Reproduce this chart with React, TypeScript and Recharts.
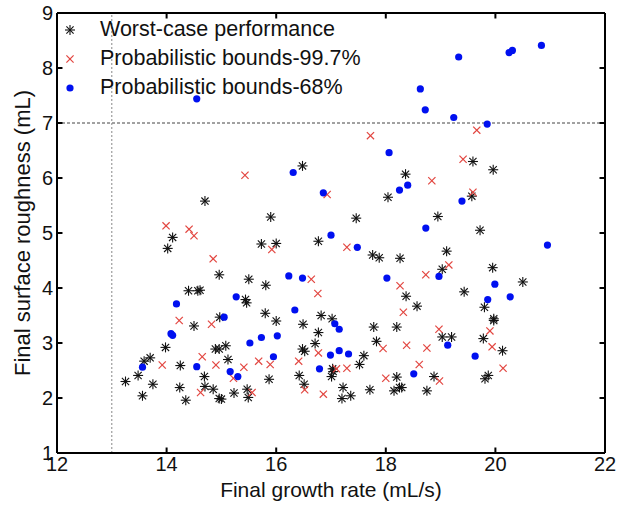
import React from "react";
import {
  ScatterChart,
  Scatter,
  XAxis,
  YAxis,
  ReferenceLine,
  Legend,
} from "recharts";

type Pt = { x: number; y: number };

const worstCase: Pt[] = [
  { x: 16.48, y: 6.22 }, { x: 14.7, y: 5.58 }, { x: 15.9, y: 5.29 }, { x: 14.11, y: 4.92 },
  { x: 16.77, y: 4.85 }, { x: 14.02, y: 4.72 }, { x: 15.73, y: 4.8 }, { x: 16.0, y: 4.81 },
  { x: 19.59, y: 6.3 }, { x: 19.96, y: 6.15 }, { x: 18.36, y: 6.07 }, { x: 18.04, y: 5.65 },
  { x: 19.57, y: 5.67 }, { x: 17.46, y: 5.27 }, { x: 18.95, y: 5.3 }, { x: 19.72, y: 5.05 },
  { x: 17.76, y: 4.6 }, { x: 17.88, y: 4.55 }, { x: 18.26, y: 4.54 }, { x: 19.11, y: 4.67 },
  { x: 19.03, y: 4.34 }, { x: 19.95, y: 4.37 }, { x: 20.5, y: 4.11 }, { x: 19.43, y: 3.93 },
  { x: 18.37, y: 3.85 }, { x: 18.57, y: 3.67 }, { x: 19.8, y: 3.65 }, { x: 19.97, y: 3.44 },
  { x: 19.97, y: 3.41 }, { x: 17.78, y: 3.29 }, { x: 18.2, y: 3.29 }, { x: 19.03, y: 3.11 },
  { x: 19.2, y: 3.11 }, { x: 19.78, y: 3.08 }, { x: 17.83, y: 3.03 }, { x: 20.13, y: 2.86 },
  { x: 17.6, y: 2.77 }, { x: 17.52, y: 2.61 }, { x: 18.2, y: 2.38 }, { x: 18.88, y: 2.39 },
  { x: 19.81, y: 2.35 }, { x: 19.87, y: 2.41 }, { x: 17.22, y: 2.19 }, { x: 17.71, y: 2.15 },
  { x: 18.15, y: 2.13 }, { x: 18.25, y: 2.19 }, { x: 18.29, y: 2.19 }, { x: 18.75, y: 2.13 },
  { x: 17.36, y: 2.04 }, { x: 17.2, y: 1.99 }, { x: 14.96, y: 4.24 }, { x: 15.5, y: 4.16 },
  { x: 15.81, y: 4.05 }, { x: 14.4, y: 3.95 }, { x: 14.57, y: 3.95 }, { x: 14.61, y: 3.96 },
  { x: 15.44, y: 3.79 }, { x: 15.46, y: 3.73 }, { x: 15.8, y: 3.54 }, { x: 16.0, y: 3.4 },
  { x: 16.82, y: 3.5 }, { x: 17.02, y: 3.44 }, { x: 14.5, y: 3.31 }, { x: 14.97, y: 3.47 },
  { x: 16.49, y: 3.34 }, { x: 16.77, y: 3.19 }, { x: 13.98, y: 2.92 }, { x: 14.89, y: 2.89 },
  { x: 14.96, y: 2.89 }, { x: 15.08, y: 2.95 }, { x: 16.48, y: 2.89 }, { x: 16.52, y: 2.85 },
  { x: 16.71, y: 2.99 }, { x: 15.12, y: 2.7 }, { x: 13.7, y: 2.73 }, { x: 13.59, y: 2.67 },
  { x: 14.25, y: 2.59 }, { x: 17.03, y: 2.53 }, { x: 17.04, y: 2.48 }, { x: 17.01, y: 2.39 },
  { x: 14.69, y: 2.39 }, { x: 15.87, y: 2.34 }, { x: 16.42, y: 2.41 }, { x: 13.48, y: 2.41 },
  { x: 13.25, y: 2.3 }, { x: 13.75, y: 2.25 }, { x: 14.24, y: 2.19 }, { x: 14.7, y: 2.21 },
  { x: 14.85, y: 2.16 }, { x: 15.23, y: 2.09 }, { x: 15.47, y: 2.16 }, { x: 15.49, y: 2.01 },
  { x: 14.96, y: 1.99 }, { x: 15.0, y: 1.98 }, { x: 13.56, y: 2.04 }, { x: 14.35, y: 1.96 },
  { x: 16.51, y: 2.25 },
];

const bounds997: Pt[] = [
  { x: 15.43, y: 6.05 }, { x: 16.93, y: 5.7 }, { x: 13.99, y: 5.13 }, { x: 14.41, y: 5.07 },
  { x: 14.5, y: 4.95 }, { x: 19.66, y: 6.87 }, { x: 17.72, y: 6.77 }, { x: 19.41, y: 6.34 },
  { x: 18.84, y: 5.95 }, { x: 19.59, y: 5.74 }, { x: 17.29, y: 4.74 }, { x: 19.15, y: 4.42 },
  { x: 18.73, y: 4.24 }, { x: 18.26, y: 4.04 }, { x: 18.32, y: 3.56 }, { x: 18.97, y: 3.25 },
  { x: 19.9, y: 3.22 }, { x: 17.95, y: 2.9 }, { x: 18.38, y: 2.96 }, { x: 18.75, y: 2.91 },
  { x: 19.94, y: 2.93 }, { x: 18.61, y: 2.61 }, { x: 20.14, y: 2.54 }, { x: 17.29, y: 2.54 },
  { x: 18.0, y: 2.36 }, { x: 18.98, y: 2.31 }, { x: 15.92, y: 4.7 }, { x: 14.85, y: 4.53 },
  { x: 16.64, y: 4.16 }, { x: 16.76, y: 3.9 }, { x: 14.23, y: 3.41 }, { x: 14.82, y: 3.34 },
  { x: 16.77, y: 2.82 }, { x: 14.65, y: 2.75 }, { x: 14.9, y: 2.6 }, { x: 15.41, y: 2.56 },
  { x: 15.68, y: 2.67 }, { x: 15.89, y: 2.61 }, { x: 16.41, y: 2.67 }, { x: 13.92, y: 2.6 },
  { x: 15.22, y: 2.36 }, { x: 17.1, y: 2.53 }, { x: 14.62, y: 2.1 }, { x: 15.56, y: 2.1 },
  { x: 16.52, y: 2.15 }, { x: 16.86, y: 2.07 },
];

const bounds68: Pt[] = [
  { x: 14.55, y: 7.44 }, { x: 16.31, y: 6.1 }, { x: 16.86, y: 5.73 }, { x: 17.0, y: 4.96 },
  { x: 19.33, y: 8.2 }, { x: 20.25, y: 8.28 }, { x: 20.31, y: 8.32 }, { x: 20.84, y: 8.41 },
  { x: 18.63, y: 7.62 }, { x: 18.72, y: 7.24 }, { x: 19.24, y: 7.1 }, { x: 19.85, y: 6.98 },
  { x: 18.06, y: 6.46 }, { x: 18.25, y: 5.78 }, { x: 18.4, y: 5.87 }, { x: 19.39, y: 5.58 },
  { x: 18.73, y: 5.09 }, { x: 17.48, y: 4.74 }, { x: 18.97, y: 4.21 }, { x: 18.02, y: 4.18 },
  { x: 19.99, y: 4.07 }, { x: 20.27, y: 3.84 }, { x: 19.86, y: 3.79 }, { x: 19.13, y: 2.96 },
  { x: 17.32, y: 2.8 }, { x: 19.63, y: 2.76 }, { x: 18.51, y: 2.44 }, { x: 20.95, y: 4.78 },
  { x: 16.23, y: 4.22 }, { x: 16.48, y: 4.18 }, { x: 15.27, y: 3.84 }, { x: 14.18, y: 3.71 },
  { x: 16.34, y: 3.6 }, { x: 15.05, y: 3.47 }, { x: 17.07, y: 3.35 }, { x: 17.15, y: 3.25 },
  { x: 14.08, y: 3.17 }, { x: 14.11, y: 3.14 }, { x: 15.52, y: 3.0 }, { x: 15.73, y: 3.1 },
  { x: 16.02, y: 3.13 }, { x: 17.15, y: 2.86 }, { x: 16.99, y: 2.78 }, { x: 15.95, y: 2.75 },
  { x: 13.56, y: 2.56 }, { x: 14.55, y: 2.57 }, { x: 15.16, y: 2.48 }, { x: 15.3, y: 2.39 },
  { x: 16.79, y: 2.53 },
];

const xTicks = [12, 14, 16, 18, 20, 22];
const yTicks = [1, 2, 3, 4, 5, 6, 7, 8, 9];
const seriesNames = [
  "Worst-case performance",
  "Probabilistic bounds-99.7%",
  "Probabilistic bounds-68%",
];

const FONT = '"Liberation Sans", Arial, sans-serif';
const RED = "#e2453f";
const BLUE = "#0010f0";

const Star = (p: any) => {
  const { cx, cy } = p;
  const r = 5;
  const d = r * 0.72;
  return (
    <g stroke="#111" strokeWidth={1.1}>
      <line x1={cx - r} y1={cy} x2={cx + r} y2={cy} />
      <line x1={cx} y1={cy - r} x2={cx} y2={cy + r} />
      <line x1={cx - d} y1={cy - d} x2={cx + d} y2={cy + d} />
      <line x1={cx - d} y1={cy + d} x2={cx + d} y2={cy - d} />
    </g>
  );
};

const Cross = (p: any) => {
  const { cx, cy } = p;
  const r = 3.6;
  return (
    <g stroke={RED} strokeWidth={1.2}>
      <line x1={cx - r} y1={cy - r} x2={cx + r} y2={cy + r} />
      <line x1={cx - r} y1={cy + r} x2={cx + r} y2={cy - r} />
    </g>
  );
};

const Dot = (p: any) => <circle cx={p.cx} cy={p.cy} r={3.6} fill={BLUE} />;

const legendIcons = [
  <Star cx={8} cy={8} />,
  <Cross cx={8} cy={8} />,
  <Dot cx={8} cy={8} />,
];

const renderLegend = () => (
  <div style={{ fontFamily: FONT, fontSize: 21.5, color: "#111", lineHeight: "29px" }}>
    {seriesNames.map((n, i) => (
      <div key={n} style={{ display: "flex", alignItems: "center", height: 29 }}>
        <svg width={16} height={16} style={{ marginRight: 22 }}>
          {legendIcons[i]}
        </svg>
        <span>{n}</span>
      </div>
    ))}
  </div>
);

export default function App() {
  const tickStyle = { fontSize: 20, fill: "#111", fontFamily: FONT };
  const innerX = xTicks.slice(1, -1);
  const innerY = yTicks.slice(1, -1);
  return (
    <div style={{ position: "absolute", left: 0, top: 0, width: 618, height: 509, background: "#fff" }}>
      <ScatterChart width={618} height={509} margin={{ top: 13, right: 13, left: 0, bottom: 0 }}>
        <XAxis
          type="number"
          dataKey="x"
          domain={[12, 22]}
          ticks={xTicks}
          height={56}
          tickSize={0}
          tickMargin={4}
          tickLine={false}
          axisLine={{ stroke: "#000", strokeWidth: 2 }}
          tick={tickStyle}
          label={{
            value: "Final growth rate (mL/s)",
            position: "insideBottom",
            offset: 12,
            style: { fontSize: 21, fill: "#111", fontFamily: FONT },
          }}
        />
        <YAxis
          type="number"
          dataKey="y"
          domain={[1, 9]}
          ticks={yTicks}
          width={57}
          tickSize={0}
          tickMargin={4}
          tickLine={false}
          axisLine={{ stroke: "#000", strokeWidth: 2 }}
          tick={tickStyle}
          label={{
            value: "Final surface roughness (mL)",
            angle: -90,
            position: "insideLeft",
            offset: 22,
            style: { textAnchor: "middle", fontSize: 22, fill: "#111", fontFamily: FONT },
          }}
        />
        <ReferenceLine y={7} stroke="#444" strokeDasharray="3 2" strokeWidth={1} />
        <ReferenceLine x={13} stroke="#888" strokeDasharray="2 2" strokeWidth={1} />
        <ReferenceLine y={9} stroke="#000" strokeWidth={2} />
        <ReferenceLine x={22} stroke="#000" strokeWidth={2} />
        {innerX.map((t) => (
          <ReferenceLine key={"xb" + t} segment={[{ x: t, y: 1 }, { x: t, y: 1.1 }]} stroke="#000" strokeWidth={2} />
        ))}
        {innerX.map((t) => (
          <ReferenceLine key={"xt" + t} segment={[{ x: t, y: 9 }, { x: t, y: 8.9 }]} stroke="#000" strokeWidth={2} />
        ))}
        {innerY.map((t) => (
          <ReferenceLine key={"yl" + t} segment={[{ x: 12, y: t }, { x: 12.1, y: t }]} stroke="#000" strokeWidth={2} />
        ))}
        {innerY.map((t) => (
          <ReferenceLine key={"yr" + t} segment={[{ x: 22, y: t }, { x: 21.9, y: t }]} stroke="#000" strokeWidth={2} />
        ))}
        <Scatter name={seriesNames[0]} data={worstCase} shape={Star} isAnimationActive={false} />
        <Scatter name={seriesNames[1]} data={bounds997} shape={Cross} isAnimationActive={false} />
        <Scatter name={seriesNames[2]} data={bounds68} shape={Dot} isAnimationActive={false} />
        <Legend
          layout="vertical"
          align="center"
          verticalAlign="middle"
          wrapperStyle={{ left: 62, top: 15, width: "auto" }}
          content={renderLegend}
        />
      </ScatterChart>
    </div>
  );
}
